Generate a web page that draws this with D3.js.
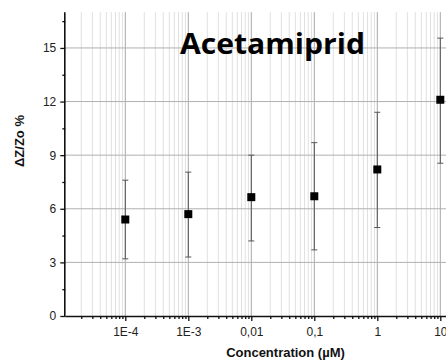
<!DOCTYPE html>
<html><head><meta charset="utf-8">
<script src="https://cdn.jsdelivr.net/npm/d3@7/dist/d3.min.js"></script>
<style>body{margin:0;background:#fff}svg{display:block}</style>
</head><body>
<script>
const concentrations = [1e-4, 1e-3, 0.01, 0.1, 1, 10];
const means = [5.4, 5.7, 6.65, 6.7, 8.2, 12.1];
const errLow = [3.2, 3.3, 4.2, 3.7, 4.95, 8.55];
const errHigh = [7.6, 8.05, 9.0, 9.7, 11.4, 15.55];
const xMajorTicks = [1e-4, 1e-3, 0.01, 0.1, 1, 10];
const xTickLabels = ["1E-4", "1E-3", "0,01", "0,1", "1", "10"];
const yMajorTicks = [0, 3, 6, 9, 12, 15];
const yMinorTicks = [1.5, 4.5, 7.5, 10.5, 13.5, 16.5];
const title = "Acetamiprid";
const xTitle = "Concentration (\u00B5M)";
const yTitle = "\u0394Z/Zo %";

const W = 446, H = 363;
const svg = d3.select("body").append("svg").attr("width", W).attr("height", H);

const x0 = 65.3, dec = 63;
const xDom = [1.116e-5, 15];
const x = d3.scaleLog().domain(xDom)
  .range([x0, x0 + dec * Math.log10(xDom[1] / xDom[0])]);
const y = d3.scaleLinear().domain([0, 17]).range([316, 12.2]);

// minor x ticks
const xMinor = [];
for (let e = -5; e <= 1; e++) for (let m = 2; m <= 9; m++) {
  const v = m * Math.pow(10, e);
  if (v > xDom[0] && v < xDom[1]) xMinor.push(v);
}

const fontAx = "Arial, 'Liberation Sans', sans-serif";

// grid
const g = svg.append("g");
g.selectAll("line.vmin").data(xMinor).enter().append("line")
  .attr("x1", d => x(d)).attr("x2", d => x(d))
  .attr("y1", y(17)).attr("y2", y(0))
  .attr("stroke", "#e0e0e0").attr("stroke-width", 1);
g.selectAll("line.vmaj").data(xMajorTicks).enter().append("line")
  .attr("x1", d => x(d)).attr("x2", d => x(d))
  .attr("y1", y(17)).attr("y2", y(0))
  .attr("stroke", "#a8a8a8").attr("stroke-width", 1);
g.selectAll("line.hmaj").data(yMajorTicks.filter(d => d > 0)).enter().append("line")
  .attr("x1", x0).attr("x2", W)
  .attr("y1", d => y(d)).attr("y2", d => y(d))
  .attr("stroke", "#b0b0b0").attr("stroke-width", 1);

// axes
const xAxisMaj = d3.axisBottom(x).tickValues(xMajorTicks)
  .tickFormat((d, i) => xTickLabels[i]).tickSize(5).tickPadding(6);
const xAxisMin = d3.axisBottom(x).tickValues(xMinor).tickFormat("").tickSize(3);
const xg = svg.append("g").attr("transform", `translate(0,${y(0)})`);
xg.call(xAxisMaj);
const xg2 = svg.append("g").attr("transform", `translate(0,${y(0)})`).call(xAxisMin);
xg2.select(".domain").remove();
[xg, xg2].forEach(a => {
  a.selectAll("path,line").attr("stroke", "#111").attr("stroke-width", 1.3);
});
xg.select(".domain").attr("d", `M${x0},0.5H${W}`).attr("stroke-width", 1.6);
xg.selectAll("text").attr("font-family", fontAx).attr("font-size", 12).attr("fill", "#222");

const yAxisMaj = d3.axisLeft(y).tickValues(yMajorTicks).tickSize(5).tickPadding(4);
const yAxisMin = d3.axisLeft(y).tickValues(yMinorTicks).tickFormat("").tickSize(3);
const yg = svg.append("g").attr("transform", `translate(${x0},0)`).call(yAxisMaj);
const yg2 = svg.append("g").attr("transform", `translate(${x0},0)`).call(yAxisMin);
yg2.select(".domain").remove();
[yg, yg2].forEach(a => a.selectAll("path,line").attr("stroke", "#111").attr("stroke-width", 1.3));
yg.select(".domain").attr("d", `M-0.5,${y(0)}V${y(17)}`).attr("stroke-width", 1.6);
yg.selectAll("text").attr("font-family", fontAx).attr("font-size", 12).attr("fill", "#222");

// error bars
const eb = svg.append("g");
concentrations.forEach((c, i) => {
  const cx = x(c);
  eb.append("line").attr("x1", cx).attr("x2", cx)
    .attr("y1", y(errLow[i])).attr("y2", y(errHigh[i]))
    .attr("stroke", "#555").attr("stroke-width", 1);
  [errLow[i], errHigh[i]].forEach(v => {
    eb.append("line").attr("x1", cx - 3).attr("x2", cx + 3)
      .attr("y1", y(v)).attr("y2", y(v))
      .attr("stroke", "#555").attr("stroke-width", 1);
  });
});
svg.append("g").selectAll("rect").data(concentrations).enter().append("rect")
  .attr("x", d => x(d) - 4).attr("y", (d, i) => y(means[i]) - 4)
  .attr("width", 8).attr("height", 8).attr("fill", "#000");

// titles
svg.append("text").attr("x", 180).attr("y", 53.5)
  .attr("font-family", "'Open Sans', sans-serif").attr("font-weight", 700)
  .attr("font-size", 29).attr("textLength", 185).attr("lengthAdjust", "spacingAndGlyphs")
  .attr("fill", "#000").text(title);
svg.append("text").attr("x", 285.5).attr("y", 357).attr("text-anchor", "middle")
  .attr("font-family", fontAx).attr("font-weight", 700).attr("font-size", 13)
  .attr("fill", "#111").text(xTitle);
svg.append("text").attr("transform", "translate(23.5,141) rotate(-90)")
  .attr("text-anchor", "middle")
  .attr("font-family", fontAx).attr("font-weight", 700).attr("font-size", 13)
  .attr("fill", "#111").text(yTitle);
</script>
</body></html>
